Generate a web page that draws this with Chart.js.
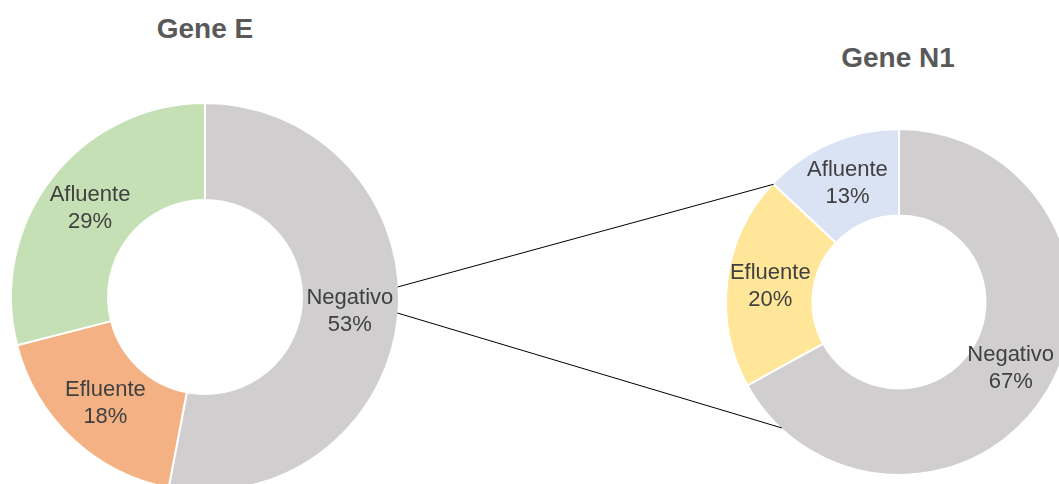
<!DOCTYPE html>
<html>
<head>
<meta charset="utf-8">
<script src="https://cdn.jsdelivr.net/npm/chart.js@4.4.1/dist/chart.umd.min.js"></script>
<style>
  html, body { margin: 0; padding: 0; background: #fff; }
  body { width: 1059px; height: 484px; overflow: hidden; position: relative; font-family: "Liberation Sans", Arial, sans-serif; }
  .chart-box { position: absolute; }
  .chart-title { position: absolute; width: 300px; text-align: center; font-weight: bold; font-size: 28px; line-height: 28px; color: #595959; }
  #connectors { position: absolute; left: 0; top: 0; pointer-events: none; }
</style>
</head>
<body>
<div class="chart-title" style="left:55px; top:15px;">Gene E</div>
<div class="chart-title" style="left:748px; top:44px;">Gene N1</div>
<div class="chart-box" id="boxE" style="left:0; top:55px; width:410px; height:484px;"><canvas id="geneEChart"></canvas></div>
<div class="chart-box" id="boxN1" style="left:719px; top:60px; width:360px; height:484px;"><canvas id="geneN1Chart"></canvas></div>
<svg id="connectors" width="1059" height="484"></svg>
<script>
// Data (percent of samples)
const categories = ['Negativo', 'Efluente', 'Afluente'];
const geneEValues = [53, 18, 29];
const geneN1Values = [67, 20, 13];

// Slice colours
const geneEColors = ['#D0CECE', '#F4B183', '#C5E0B4'];
const geneN1Colors = ['#D0CECE', '#FFE699', '#DAE3F3'];

// Draw "Label\nNN%" in the middle of each slice
const sliceLabels = {
    id: 'sliceLabels',
    afterDatasetsDraw(chart) {
        const ctx = chart.ctx;
        const meta = chart.getDatasetMeta(0);
        const values = chart.data.datasets[0].data;
        ctx.save();
        ctx.font = '22px "Liberation Sans", Arial, sans-serif';
        ctx.fillStyle = '#404040';
        ctx.textAlign = 'center';
        ctx.textBaseline = 'middle';
        meta.data.forEach((arc, i) => {
            const p = arc.tooltipPosition();
            ctx.fillText(chart.data.labels[i], p.x, p.y - 13);
            ctx.fillText(values[i] + '%', p.x, p.y + 14);
        });
        ctx.restore();
    }
};

function makeDoughnut(canvasId, values, colors, radius) {
    const ctx = document.getElementById(canvasId).getContext('2d');
    return new Chart(ctx, {
        type: 'doughnut',
        data: {
            labels: categories,
            datasets: [{
                data: values,
                backgroundColor: colors,
                borderColor: '#ffffff',
                borderWidth: 2
            }]
        },
        options: {
            responsive: true,
            maintainAspectRatio: false,
            animation: false,
            radius: radius,
            cutout: '50%',
            layout: { padding: 0 },
            plugins: {
                legend: { display: false },
                tooltip: { enabled: false }
            }
        },
        plugins: [sliceLabels]
    });
}

const chartE = makeDoughnut('geneEChart', geneEValues, geneEColors, 194);
const chartN1 = makeDoughnut('geneN1Chart', geneN1Values, geneN1Colors, 173);

// Connector lines from Gene E "Negativo" to Gene N1
function edgePoint(chart, boxId, angle) {
    const box = document.getElementById(boxId);
    const arc = chart.getDatasetMeta(0).data[0];
    const r = arc.outerRadius - 1;
    return {
        x: box.offsetLeft + arc.x + Math.cos(angle) * r,
        y: box.offsetTop + arc.y + Math.sin(angle) * r
    };
}

function drawConnectors() {
    const svg = document.getElementById('connectors');
    svg.innerHTML = '';
    const efluenteArc = chartN1.getDatasetMeta(0).data[1];
    const pairs = [
        [edgePoint(chartE, 'boxE', -0.052), edgePoint(chartN1, 'boxN1', efluenteArc.endAngle)],
        [edgePoint(chartE, 'boxE', 0.083), edgePoint(chartN1, 'boxN1', 2.32)]
    ];
    pairs.forEach(([a, b]) => {
        const line = document.createElementNS('http://www.w3.org/2000/svg', 'line');
        line.setAttribute('x1', a.x);
        line.setAttribute('y1', a.y);
        line.setAttribute('x2', b.x);
        line.setAttribute('y2', b.y);
        line.setAttribute('stroke', '#000');
        line.setAttribute('stroke-width', '1');
        svg.appendChild(line);
    });
}

drawConnectors();
</script>
</body>
</html>
